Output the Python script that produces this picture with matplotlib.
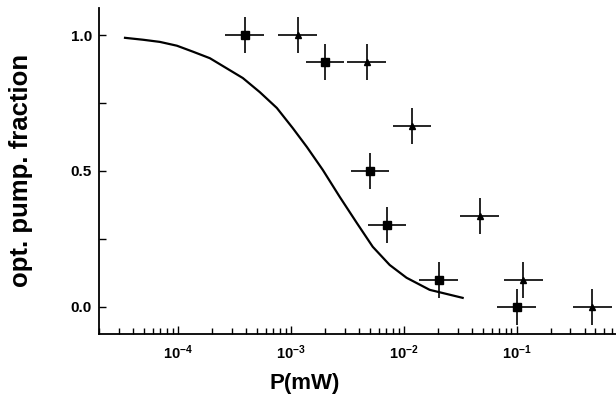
import numpy as np
import matplotlib
matplotlib.use("Agg")
import matplotlib.pyplot as plt
from matplotlib.ticker import FixedLocator, NullFormatter

plt.rcParams['font.family'] = ['Liberation Sans', 'DejaVu Sans']
plt.rcParams['mathtext.fontset'] = 'custom'
plt.rcParams['mathtext.bf'] = 'Liberation Sans:bold'
plt.rcParams['mathtext.rm'] = 'Liberation Sans:bold'

# squares
sq_p = [3.9e-4, 2.0e-3, 5.0e-3, 7.1e-3, 2.04e-2, 1.0e-1]
sq_f = [1.0, 0.9, 0.5, 0.3, 0.1, 0.0]
# triangles
tr_p = [1.15e-3, 4.7e-3, 1.18e-2, 4.7e-2, 1.15e-1, 4.7e-1]
tr_f = [1.0, 0.9, 0.667, 0.333, 0.1, 0.0]
# error sizes
p_err_dec = 0.17   # half width in decades
f_err = 0.066

# fitted curve
curve_p = [3.40e-5, 4.90e-5, 6.93e-5, 9.80e-5, 1.36e-4, 1.92e-4, 3.76e-4,
           5.32e-4, 7.52e-4, 1.04e-3, 1.39e-3, 1.92e-3, 2.72e-3, 3.84e-3,
           5.32e-3, 7.52e-3, 1.06e-2, 1.70e-2, 3.33e-2]
curve_f = [0.990, 0.983, 0.975, 0.961, 0.939, 0.915, 0.842,
           0.790, 0.732, 0.658, 0.588, 0.504, 0.404, 0.309,
           0.221, 0.154, 0.107, 0.0625, 0.033]

xticks = [1e-4, 1e-3, 1e-2, 1e-1]
xticklabels = [r'$\mathbf{10^{-4}}$', r'$\mathbf{10^{-3}}$',
               r'$\mathbf{10^{-2}}$', r'$\mathbf{10^{-1}}$']


def xerr_of(p):
    p = np.array(p)
    f = 10 ** p_err_dec
    return [p - p / f, p * f - p]


fig = plt.figure(figsize=(6.16, 3.97), dpi=100)
ax = fig.add_axes([0.1607, 0.1587, 0.8393, 0.8213])

ax.plot(curve_p, curve_f, color='black', lw=1.6)

ax.errorbar(sq_p, sq_f, xerr=xerr_of(sq_p), yerr=f_err, fmt='s',
            color='black', ms=6, elinewidth=1.2, capsize=0)
ax.errorbar(tr_p, tr_f, xerr=xerr_of(tr_p), yerr=f_err, fmt='^',
            color='black', ms=5, elinewidth=1.2, capsize=0)

ax.set_xscale('log')
ax.set_xlim(2.0e-5, 0.76)
ax.set_ylim(-0.1, 1.1)

ax.spines['top'].set_visible(False)
ax.spines['right'].set_visible(False)
ax.spines['left'].set_linewidth(1.3)
ax.spines['bottom'].set_linewidth(1.3)

ax.xaxis.set_major_locator(FixedLocator(xticks))
ax.set_xticklabels(xticklabels, fontsize=10.5)
ax.xaxis.set_minor_locator(FixedLocator(
    [m * 10.0 ** e for e in range(-5, 1) for m in range(2, 10)]))
ax.xaxis.set_minor_formatter(NullFormatter())

ax.set_yticks([0.0, 0.5, 1.0])
ax.set_yticklabels(['0.0', '0.5', '1.0'], fontsize=11, fontweight='bold')
ax.set_yticks([0.25, 0.75], minor=True)

ax.tick_params(which='both', direction='in', width=1.0)
ax.tick_params(axis='x', which='major', length=6, pad=7)
ax.tick_params(axis='x', which='minor', length=4)
ax.tick_params(axis='y', which='both', length=5, pad=5)

ax.set_xlabel('P(mW)', fontsize=16, fontweight='bold')
ax.xaxis.set_label_coords(0.398, -0.12)
ax.set_ylabel('opt. pump. fraction', fontsize=18.5, fontweight='bold')
ax.yaxis.set_label_coords(-0.128, 0.503)

fig.savefig('out.png', dpi=100)
